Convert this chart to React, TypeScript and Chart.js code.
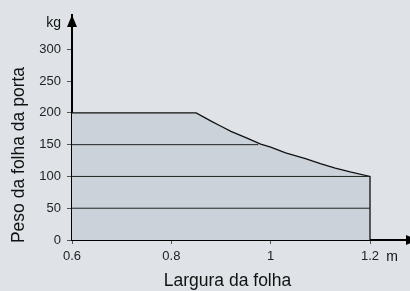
import React, { useEffect, useRef } from "react";
import { Chart, registerables } from "chart.js";

Chart.register(...registerables);

// Door leaf width (m) and permitted leaf weight (kg)
const widths = [0.6, 0.85, 0.88, 0.9, 0.92, 0.95, 0.98, 1.0, 1.03, 1.07, 1.1, 1.13, 1.16, 1.2, 1.2];
const weights = [200, 200, 187, 179, 171, 161, 151, 146, 137, 128, 120, 113, 107, 100, 0];

// Horizontal guide lines inside the permitted area
const gridLevels = [50, 100, 150];
const gridEnds = [1.2, 1.2, 0.975];

const xTicks = [0.6, 0.8, 1.0, 1.2];
const xTickLabels = ["0.6", "0.8", "1", "1.2"];
const yTicks = [0, 50, 100, 150, 200, 250, 300];

const xTitle = "Largura da folha";
const yTitle = "Peso da folha da porta";
const xUnit = "m";
const yUnit = "kg";

const BG = "#dfe3e7";
const FILL = "#cbd2d9";
const FONT = "'Liberation Sans', Arial, sans-serif";

export default function App() {
  const ref = useRef<HTMLCanvasElement | null>(null);

  useEffect(() => {
    const canvas = ref.current;
    if (!canvas) return;

    const decor = {
      id: "decor",
      beforeDraw(chart: any) {
        const c = chart.ctx;
        c.save();
        c.fillStyle = BG;
        c.fillRect(0, 0, chart.width, chart.height);
        c.restore();
      },
      afterDraw(chart: any) {
        const c = chart.ctx;
        const xs = chart.scales.x;
        const ys = chart.scales.y;
        const ax = xs.getPixelForValue(0.6);
        const ay = ys.getPixelForValue(0);
        const top = chart.chartArea.top;
        c.save();
        c.fillStyle = "#000";
        // y arrow
        c.beginPath();
        c.moveTo(ax, top);
        c.lineTo(ax - 5, top + 12);
        c.lineTo(ax + 5, top + 12);
        c.closePath();
        c.fill();
        // x arrow (partly beyond the canvas)
        c.beginPath();
        c.moveTo(406, ay - 5);
        c.lineTo(418, ay);
        c.lineTo(406, ay + 5);
        c.closePath();
        c.fill();
        // units
        c.fillStyle = "#111";
        c.font = `14px ${FONT}`;
        c.textBaseline = "middle";
        c.textAlign = "right";
        c.fillText(yUnit, 61, 23);
        c.textAlign = "center";
        c.fillText(xUnit, 392, 257);
        // titles
        c.font = `17.5px ${FONT}`;
        c.fillText(xTitle, 227.5, 281);
        c.translate(19, 155);
        c.rotate(-Math.PI / 2);
        c.fillText(yTitle, 0, 0);
        c.restore();
      },
    };

    const lineDs = gridLevels.map((lvl, i) => ({
      data: [
        { x: 0.6, y: lvl },
        { x: gridEnds[i], y: lvl },
      ],
      borderColor: "#222",
      borderWidth: 1,
      pointRadius: 0,
      fill: false,
      order: 0,
    }));

    const chart = new Chart(canvas, {
      type: "line",
      data: {
        datasets: [
          ...lineDs,
          {
            data: widths.map((w, i) => ({ x: w, y: weights[i] })),
            borderColor: "#111",
            borderWidth: 1.3,
            backgroundColor: FILL,
            pointRadius: 0,
            fill: "origin",
            tension: 0,
            order: 1,
          },
        ],
      },
      options: {
        responsive: false,
        animation: false,
        events: [],
        layout: { padding: { top: 15, right: 0, bottom: 0, left: 0 } },
        plugins: {
          legend: { display: false },
          tooltip: { enabled: false },
        },
        scales: {
          x: {
            type: "linear",
            min: 0.6,
            max: 1.2805,
            z: 1,
            afterFit: (s: any) => {
              s.height = 51;
            },
            afterBuildTicks: (s: any) => {
              s.ticks = xTicks.map((v) => ({ value: v }));
            },
            ticks: {
              autoSkip: false,
              maxRotation: 0,
              padding: 5,
              color: "#222",
              font: { family: FONT, size: 13 },
              callback: (v: any, i: number) => xTickLabels[i],
            },
            grid: {
              drawOnChartArea: false,
              drawTicks: true,
              tickLength: 4,
              color: "#555",
            },
            border: { display: true, color: "#000", width: 2 },
          },
          y: {
            type: "linear",
            min: 0,
            max: 354,
            z: 1,
            afterFit: (s: any) => {
              s.width = 72;
            },
            afterBuildTicks: (s: any) => {
              s.ticks = yTicks.map((v) => ({ value: v }));
            },
            ticks: {
              autoSkip: false,
              padding: 6,
              color: "#222",
              font: { family: FONT, size: 13 },
              callback: (v: any) => String(v),
            },
            grid: {
              drawOnChartArea: false,
              drawTicks: true,
              tickLength: 5,
              color: "#555",
            },
            border: { display: true, color: "#000", width: 2 },
          },
        },
      },
      plugins: [decor],
    });

    return () => chart.destroy();
  }, []);

  return (
    <div style={{ position: "fixed", left: 0, top: 0, width: 410, height: 291, background: BG }}>
      <canvas ref={ref} width={410} height={291} style={{ display: "block", width: 410, height: 291 }} />
    </div>
  );
}
